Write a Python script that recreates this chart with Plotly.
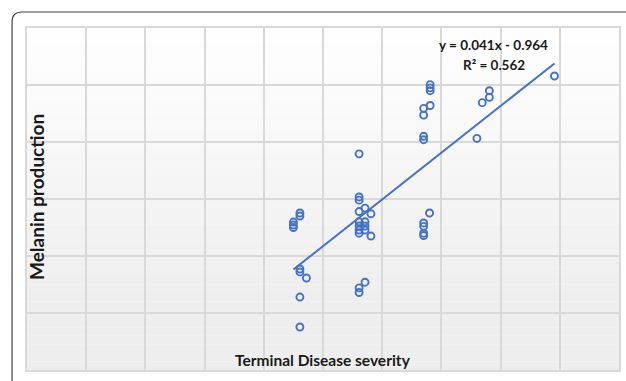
import plotly.graph_objects as go

# Terminal disease severity (x) and melanin production (y)
severity = [46.1, 46.1, 45.0, 45.0, 45.0, 46.1, 46.1, 47.2, 46.1, 46.1,
            56.1, 56.1, 56.1, 57.1, 56.1, 58.1, 56.1, 57.1, 56.1, 57.1, 56.1, 57.1, 56.1, 58.1, 56.1, 56.1, 57.1,
            68.1, 68.1, 68.1, 68.1, 67.0, 67.0, 67.0, 67.0, 68.0, 67.0, 67.0, 67.0, 67.0,
            78.1, 78.1, 76.9, 76.0, 89.1]
melanin = [1.377, 1.351, 1.298, 1.272, 1.25, 0.886, 0.86, 0.807, 0.64, 0.377,
           1.896, 1.518, 1.49, 1.42, 1.39, 1.37, 1.30, 1.30, 1.263, 1.263, 1.228, 1.228, 1.20, 1.175, 0.72, 0.68, 0.77,
           2.503, 2.475, 2.45, 2.32, 2.295, 2.236, 2.05, 2.02, 1.377, 1.29, 1.26, 1.20, 1.18,
           2.45, 2.392, 2.345, 2.032, 2.579]

slope = 0.041
intercept = -0.964
r_squared = 0.562

x_title = "Terminal Disease severity"
y_title = "Melanin production"

BLUE = "#4472C4"
GRID = "#d9d9d9"

W, H = 626, 381
ML, MR, MT, MB = 27, 5, 28, 11
PW, PH = W - ML - MR, H - MT - MB


def px(xp):
    return (xp - ML) / PW


def py(yp):
    return (H - MB - yp) / PH


fig = go.Figure()

fig.add_trace(go.Scatter(
    x=severity, y=melanin, mode="markers",
    marker=dict(symbol="circle-open", size=7, color=BLUE, line=dict(width=1.9, color=BLUE)),
    showlegend=False, hoverinfo="skip"))

tx = [min(severity), max(severity)]
ty = [slope * v + intercept for v in tx]
fig.add_trace(go.Scatter(x=tx, y=ty, mode="lines", line=dict(color=BLUE, width=2),
                         showlegend=False, hoverinfo="skip"))

shapes = []
# soft vertical gradient background
N = 40
for i in range(N):
    t = i / N  # 0 bottom -> 1 top
    g = 1 - t
    v = int(round(255 - 17 * min(1.0, g * 1.25)))
    shapes.append(dict(type="rect", xref="paper", yref="paper", x0=0, x1=1,
                       y0=i / N, y1=(i + 1) / N, line=dict(width=0),
                       fillcolor=f"rgb({v},{v},{v})", layer="below"))

# outer rounded border
path = (f"M {px(12)} {py(390)} L {px(12)} {py(22)} "
        f"Q {px(12)} {py(12)} {px(22)} {py(12)} L {px(640)} {py(12)}")
shapes.append(dict(type="path", xref="paper", yref="paper", path=path,
                   line=dict(color="#404040", width=1.2), layer="above"))

fig.update_layout(
    width=W, height=H,
    margin=dict(l=ML, r=MR, t=MT, b=MB),
    paper_bgcolor="white", plot_bgcolor="white",
    shapes=shapes,
    xaxis=dict(range=[0, 100], dtick=10, showticklabels=False, ticks="",
               showgrid=True, gridcolor=GRID, gridwidth=2, zeroline=False,
               showline=True, linecolor=GRID, linewidth=2, mirror=True, fixedrange=True),
    yaxis=dict(range=[0, 3], dtick=0.5, showticklabels=False, ticks="",
               showgrid=True, gridcolor=GRID, gridwidth=2, zeroline=False,
               showline=True, linecolor=GRID, linewidth=2, mirror=True, fixedrange=True),
    annotations=[
        dict(text=f"<b>y = {slope}x - {abs(intercept)}</b>", x=78.8, y=2.85, xref="x", yref="y",
             showarrow=False, font=dict(family="Lato", size=13.5, color="#1a1a1a")),
        dict(text=f"<b>R² = {r_squared}</b>", x=78.8, y=2.675, xref="x", yref="y",
             showarrow=False, font=dict(family="Lato", size=13.5, color="#1a1a1a")),
        dict(text=f"<b>{y_title}</b>", x=px(37), y=py(197), xref="paper", yref="paper",
             xanchor="center", yanchor="middle",
             textangle=-90, showarrow=False, font=dict(family="Lato", size=19, color="#1a1a1a")),
        dict(text=f"<b>{x_title}</b>", x=px(324), y=py(360), xref="paper", yref="paper",
             xanchor="center", yanchor="middle",
             showarrow=False, font=dict(family="Lato", size=15.5, color="#1a1a1a")),
    ],
)

fig.write_html("out.html", config={"displayModeBar": False},
               post_script="document.body.style.margin='0';document.body.style.overflow='hidden';")
